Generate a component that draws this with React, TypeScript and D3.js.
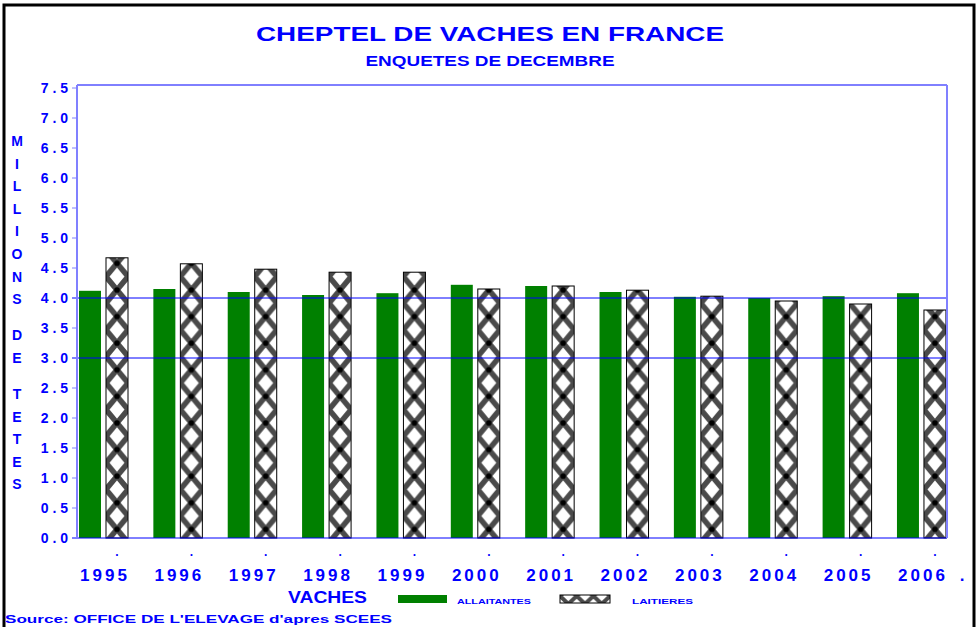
import React from 'react';
import * as d3 from 'd3';

// Cheptel de vaches en France, millions de têtes (enquêtes de décembre)
const years = ["1995", "1996", "1997", "1998", "1999", "2000", "2001", "2002", "2003", "2004", "2005", "2006"];
const allaitantes = [4.12, 4.15, 4.10, 4.05, 4.08, 4.22, 4.20, 4.10, 4.02, 4.00, 4.03, 4.08];
const laitieres = [4.67, 4.57, 4.48, 4.43, 4.43, 4.15, 4.20, 4.13, 4.03, 3.95, 3.90, 3.80];
const seriesKeys = ["ALLAITANTES", "LAITIERES"];
const refLines = [3.0, 4.0];
const yAxisTitle = "MILLIONS DE TETES";

const W = 977;
const H = 627;
const BLUE = "#0000ff";
const LIGHT_BLUE = "#8080ff";
const GREEN = "#008000";
const FONT = "'Liberation Sans', Arial, Helvetica, sans-serif";

const plot = { left: 77, right: 947, top: 85, bottom: 538 };

const App: React.FC = () => {
    const y = d3.scaleLinear().domain([0, 7.5]).range([plot.bottom, 88]);
    const yTicks = y.ticks(15);

    const x = d3.scaleBand<string>()
        .domain(years)
        .range([79, 79 + 12 * 74.36])
        .paddingInner(0)
        .paddingOuter(0);

    const inner = d3.scaleBand<string>()
        .domain(seriesKeys)
        .range([0, 49])
        .paddingInner(5 / 27)
        .paddingOuter(0);

    const bw = inner.bandwidth();
    const tileH = 26.6;

    // vertical letters of the y-axis title
    let cy = 146;
    const letters: { ch: string; y: number }[] = [];
    for (const ch of yAxisTitle) {
        if (ch === " ") { cy += 13.5; continue; }
        letters.push({ ch, y: cy });
        cy += 22.6;
    }

    const fmt = (v: number) => d3.format(".1f")(v).split("").join(" ");

    return (
        <svg width={W} height={H} style={{ position: "absolute", left: 0, top: 0, display: "block", background: "#fff" }}
            fontFamily={FONT} fontWeight="bold">
            <defs>
                {years.map((yr, i) => {
                    const bx = (x(yr) || 0) + (inner("LAITIERES") || 0);
                    return (
                        <pattern key={yr} id={`hatch-${i}`} patternUnits="userSpaceOnUse"
                            x={bx} y={plot.bottom - 35.3} width={bw} height={tileH}>
                            <rect width={bw} height={tileH} fill="#fff" />
                            <path d={`M${bw / 2},0 L0,${tileH / 2} L${bw / 2},${tileH} L${bw},${tileH / 2} Z`}
                                fill="none" stroke="#4a4a4a" strokeWidth={5.5} />
                            <circle cx={bw / 2} cy={0} r={2.8} fill="#000" />
                            <circle cx={bw / 2} cy={tileH} r={2.8} fill="#000" />
                        </pattern>
                    );
                })}
                <pattern id="hatch-legend" patternUnits="userSpaceOnUse" x={560} y={588} width={16.7} height={16}>
                    <rect width={16.7} height={16} fill="#fff" />
                    <path d="M8.35,0 L0,8 L8.35,16 L16.7,8 Z" fill="none" stroke="#4a4a4a" strokeWidth={4} />
                </pattern>
            </defs>

            {/* outer frame */}
            <rect x={4} y={5} width={970} height={640} fill="none" stroke="#000" strokeWidth={3} />

            {/* titles */}
            <text x={490} y={41} textAnchor="middle" fill={BLUE} fontSize={21} textLength={468} lengthAdjust="spacingAndGlyphs">
                CHEPTEL DE VACHES EN FRANCE
            </text>
            <text x={490} y={66} textAnchor="middle" fill={BLUE} fontSize={14} textLength={249} lengthAdjust="spacingAndGlyphs">
                ENQUETES DE DECEMBRE
            </text>

            {/* y-axis title, stacked letters */}
            {letters.map((l, i) => (
                <text key={i} x={17} y={l.y} textAnchor="middle" fill={BLUE} fontSize={14}>{l.ch}</text>
            ))}

            {/* bars */}
            {years.map((yr, i) => {
                const gx = x(yr) || 0;
                return (
                    <g key={yr}>
                        <rect x={gx + (inner("ALLAITANTES") || 0)} y={y(allaitantes[i])} width={bw}
                            height={plot.bottom - y(allaitantes[i])} fill={GREEN} />
                        <rect x={gx + (inner("LAITIERES") || 0)} y={y(laitieres[i])} width={bw}
                            height={plot.bottom - y(laitieres[i])} fill={`url(#hatch-${i})`} stroke="#000" strokeWidth={1} />
                    </g>
                );
            })}

            {/* reference lines */}
            {refLines.map(v => (
                <line key={v} x1={72} x2={plot.right} y1={y(v)} y2={y(v)} stroke={BLUE} strokeWidth={1} />
            ))}

            {/* plot frame */}
            <line x1={plot.left} x2={plot.right} y1={plot.top} y2={plot.top} stroke={BLUE} strokeWidth={1} />
            <line x1={72} x2={plot.right} y1={plot.bottom} y2={plot.bottom} stroke={BLUE} strokeWidth={1} />
            <line x1={plot.left} x2={plot.left} y1={plot.top} y2={plot.bottom} stroke={LIGHT_BLUE} strokeWidth={2} />
            <line x1={plot.right} x2={plot.right} y1={plot.top} y2={plot.bottom} stroke={LIGHT_BLUE} strokeWidth={2} />

            {/* y ticks */}
            {yTicks.map(t => (
                <g key={t}>
                    <line x1={72} x2={plot.left} y1={y(t)} y2={y(t)} stroke={LIGHT_BLUE} strokeWidth={1} />
                    <text x={68} y={y(t) + 5} textAnchor="end" fill={BLUE} fontSize={14}>{fmt(t)}</text>
                </g>
            ))}

            {/* x labels */}
            {years.map(yr => {
                const gx = x(yr) || 0;
                const dotX = gx + (inner("LAITIERES") || 0) + bw / 2;
                return (
                    <g key={yr}>
                        <text x={dotX} y={556} textAnchor="middle" fill={BLUE} fontSize={12}>.</text>
                        <text x={gx + 26} y={581} textAnchor="middle" fill={BLUE} fontSize={17} letterSpacing={3}>{yr}</text>
                    </g>
                );
            })}
            <text x={962} y={581} textAnchor="middle" fill={BLUE} fontSize={17}>.</text>

            {/* legend */}
            <text x={288} y={603} fill={BLUE} fontSize={16} textLength={79} lengthAdjust="spacingAndGlyphs">VACHES</text>
            <rect x={398} y={595} width={49} height={8} fill={GREEN} />
            <text x={457} y={604} fill={BLUE} fontSize={7.5} textLength={74} lengthAdjust="spacingAndGlyphs">ALLAITANTES</text>
            <rect x={560} y={595} width={50} height={8} fill="url(#hatch-legend)" stroke="#000" strokeWidth={1} />
            <text x={632} y={604} fill={BLUE} fontSize={7.5} textLength={61} lengthAdjust="spacingAndGlyphs">LAITIERES</text>

            {/* source */}
            <text x={5} y={623} fill={BLUE} fontSize={11} textLength={387} lengthAdjust="spacingAndGlyphs">
                Source: OFFICE DE L'ELEVAGE d'apres SCEES
            </text>
        </svg>
    );
};

export default App;
